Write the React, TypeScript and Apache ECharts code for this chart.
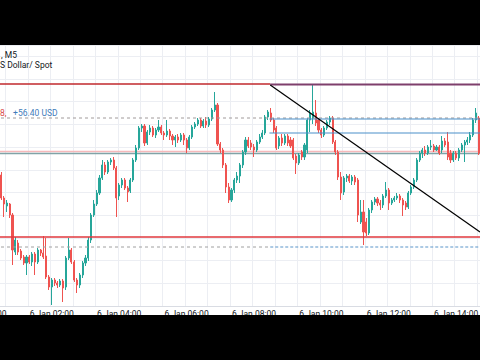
import React, { useEffect, useRef } from 'react';
import * as echarts from 'echarts';

// 5-minute bars, 6 Jan 00:00 .. 14:40
const dayLabel = '6 Jan';
const firstMinute = 0;
const lastMinute = 880;
const stepMinutes = 5;
const times: string[] = [];
for (let m = firstMinute; m <= lastMinute; m += stepMinutes) {
  const h = Math.floor(m / 60);
  const mm = m % 60;
  times.push(`${String(h).padStart(2, '0')}:${String(mm).padStart(2, '0')}`);
}
const tickLabels = ['6 Jan 00:00', '6 Jan 02:00', '6 Jan 04:00', '6 Jan 06:00', '6 Jan 08:00', '6 Jan 10:00', '6 Jan 12:00', '6 Jan 14:00'];

// [open, close, low, high]
const ohlc: number[][] = [
  [2640.0, 2641.0, 2639.6, 2642.0], // 00:00
  [2641.0, 2640.0, 2639.4, 2641.4],
  [2640.0, 2639.0, 2638.4, 2640.6],
  [2639.0, 2639.6, 2638.4, 2640.0],
  [2639.6, 2638.0, 2637.4, 2640.0],
  [2638.0, 2635.0, 2634.4, 2638.4], // 5
  [2635.0, 2630.4, 2630.0, 2635.6],
  [2630.4, 2629.2, 2626.6, 2630.8],
  [2628.8, 2629.4, 2627.6, 2630.0],
  [2629.2, 2627.0, 2626.4, 2629.4],
  [2627.0, 2620.0, 2617.0, 2627.4], // 10
  [2619.6, 2622.0, 2619.0, 2622.6],
  [2621.4, 2619.6, 2619.0, 2622.0],
  [2619.8, 2618.4, 2618.0, 2620.2],
  [2618.6, 2617.4, 2617.0, 2619.0],
  [2617.4, 2618.6, 2615.0, 2619.0], // 15
  [2618.6, 2617.6, 2617.2, 2619.0],
  [2617.6, 2619.2, 2616.8, 2619.6],
  [2619.2, 2617.6, 2615.0, 2619.6],
  [2617.6, 2620.0, 2617.2, 2620.4],
  [2620.0, 2619.4, 2618.8, 2620.2], // 20
  [2619.4, 2618.6, 2618.2, 2622.8],
  [2618.8, 2614.6, 2614.2, 2622.4],
  [2614.6, 2612.6, 2612.0, 2615.0],
  [2612.6, 2614.0, 2609.0, 2614.4],
  [2614.0, 2613.4, 2612.8, 2614.4], // 25
  [2613.4, 2613.0, 2612.4, 2613.8],
  [2613.0, 2613.8, 2612.6, 2614.2],
  [2613.8, 2612.4, 2609.6, 2614.2],
  [2612.6, 2618.4, 2612.0, 2618.8],
  [2618.4, 2620.0, 2618.0, 2622.4], // 30
  [2620.0, 2617.6, 2617.2, 2620.4],
  [2617.6, 2614.0, 2613.6, 2618.0],
  [2614.0, 2613.0, 2611.4, 2614.4],
  [2613.0, 2615.0, 2612.4, 2615.4],
  [2615.0, 2617.4, 2614.4, 2617.8], // 35
  [2617.4, 2618.4, 2616.8, 2619.0],
  [2618.4, 2622.0, 2617.8, 2622.6],
  [2622.0, 2627.0, 2621.4, 2627.4],
  [2627.0, 2629.2, 2626.6, 2630.0],
  [2629.2, 2631.4, 2628.8, 2632.0], // 40
  [2631.4, 2634.4, 2631.0, 2635.0],
  [2634.4, 2637.0, 2634.0, 2638.0],
  [2637.0, 2635.6, 2635.0, 2637.6],
  [2635.6, 2637.6, 2635.2, 2638.0],
  [2637.6, 2638.0, 2637.0, 2638.4], // 45
  [2638.0, 2636.4, 2636.0, 2638.6],
  [2636.4, 2630.4, 2626.6, 2636.8],
  [2630.8, 2633.0, 2630.0, 2633.4],
  [2633.0, 2634.0, 2632.4, 2634.4],
  [2634.0, 2632.4, 2632.0, 2634.4], // 50
  [2632.4, 2631.6, 2629.6, 2632.8],
  [2631.8, 2634.0, 2631.4, 2634.4],
  [2634.0, 2638.0, 2633.6, 2638.4],
  [2638.0, 2640.4, 2637.6, 2641.0],
  [2640.4, 2644.4, 2640.0, 2644.8], // 55
  [2644.4, 2644.8, 2643.6, 2645.2],
  [2644.8, 2641.4, 2640.8, 2645.2],
  [2641.4, 2643.6, 2641.0, 2644.0],
  [2643.6, 2644.4, 2643.0, 2645.0],
  [2644.4, 2643.0, 2642.6, 2644.8], // 60
  [2643.0, 2644.0, 2642.4, 2644.4],
  [2644.0, 2644.6, 2643.6, 2646.0],
  [2644.6, 2643.4, 2643.0, 2645.0],
  [2643.4, 2643.0, 2642.0, 2643.8],
  [2643.0, 2643.8, 2642.6, 2646.0], // 65
  [2643.8, 2642.8, 2642.0, 2644.2],
  [2642.8, 2642.0, 2641.0, 2643.2],
  [2642.0, 2642.6, 2640.6, 2643.0],
  [2642.6, 2642.0, 2641.4, 2643.2],
  [2642.0, 2643.0, 2641.6, 2643.4], // 70
  [2643.0, 2642.0, 2641.0, 2643.4],
  [2642.0, 2640.4, 2639.4, 2642.4],
  [2640.4, 2642.6, 2640.0, 2643.0],
  [2642.6, 2644.6, 2642.2, 2645.0],
  [2644.6, 2645.2, 2644.2, 2645.6], // 75
  [2645.2, 2646.0, 2644.8, 2646.4],
  [2646.0, 2644.8, 2644.4, 2646.4],
  [2644.8, 2645.8, 2644.4, 2646.2],
  [2645.8, 2645.0, 2644.4, 2646.6],
  [2645.0, 2646.2, 2644.6, 2646.6], // 80
  [2646.2, 2648.0, 2645.8, 2648.4],
  [2648.0, 2649.0, 2647.6, 2651.6],
  [2649.0, 2641.2, 2640.8, 2649.4],
  [2641.2, 2640.0, 2639.4, 2641.6],
  [2640.0, 2637.0, 2636.4, 2640.4], // 85
  [2637.0, 2632.6, 2631.4, 2637.4],
  [2632.6, 2630.0, 2629.4, 2633.4],
  [2630.0, 2632.0, 2629.6, 2632.4],
  [2632.0, 2634.0, 2631.4, 2634.4],
  [2634.0, 2634.8, 2633.4, 2635.6], // 90
  [2634.8, 2637.0, 2633.4, 2637.4],
  [2637.0, 2639.6, 2636.4, 2640.0],
  [2639.6, 2642.0, 2639.0, 2642.6],
  [2642.0, 2640.8, 2640.4, 2642.6],
  [2641.4, 2640.6, 2640.0, 2642.0], // 95
  [2640.6, 2640.0, 2638.6, 2641.2],
  [2640.0, 2641.6, 2639.6, 2642.0],
  [2641.6, 2642.6, 2641.2, 2643.2],
  [2642.6, 2643.4, 2642.2, 2644.0],
  [2643.4, 2646.6, 2643.0, 2647.0], // 100
  [2646.6, 2647.6, 2646.0, 2648.0],
  [2647.4, 2646.0, 2645.6, 2648.4],
  [2646.0, 2644.0, 2643.4, 2646.4],
  [2644.4, 2640.4, 2640.0, 2644.8],
  [2640.8, 2642.4, 2640.2, 2642.8], // 105
  [2642.4, 2641.4, 2640.8, 2643.2],
  [2641.4, 2642.8, 2641.0, 2643.2],
  [2642.8, 2641.4, 2640.8, 2643.2],
  [2642.0, 2640.8, 2640.4, 2642.6],
  [2642.0, 2638.4, 2638.0, 2642.4], // 110
  [2638.8, 2637.4, 2635.2, 2639.2],
  [2637.4, 2639.0, 2637.0, 2639.4],
  [2639.6, 2638.6, 2638.0, 2640.0],
  [2638.6, 2641.0, 2638.0, 2641.4],
  [2640.0, 2646.0, 2639.4, 2646.4], // 115
  [2646.0, 2647.4, 2643.6, 2648.0],
  [2646.4, 2647.6, 2645.2, 2653.0],
  [2647.4, 2645.4, 2644.8, 2650.0],
  [2646.0, 2644.0, 2643.4, 2646.4],
  [2644.0, 2643.0, 2642.4, 2644.4], // 120
  [2643.0, 2644.4, 2642.6, 2644.8],
  [2644.4, 2645.6, 2644.0, 2646.0],
  [2645.6, 2646.4, 2645.0, 2646.8],
  [2646.4, 2641.6, 2641.2, 2646.8],
  [2641.6, 2639.6, 2639.0, 2642.0], // 125
  [2639.6, 2634.6, 2634.0, 2640.0],
  [2634.6, 2631.4, 2630.0, 2635.6],
  [2631.6, 2634.4, 2631.0, 2634.8],
  [2634.4, 2634.8, 2633.6, 2635.2],
  [2634.8, 2633.8, 2633.4, 2635.2], // 130
  [2633.8, 2634.6, 2633.0, 2635.0],
  [2634.6, 2633.6, 2633.0, 2635.0],
  [2634.0, 2627.0, 2625.6, 2634.4],
  [2625.6, 2627.6, 2625.2, 2630.0],
  [2627.6, 2623.6, 2621.0, 2630.0], // 135
  [2625.6, 2623.4, 2622.8, 2626.4],
  [2623.4, 2628.0, 2623.0, 2628.4],
  [2628.0, 2629.6, 2627.4, 2630.0],
  [2629.6, 2630.2, 2629.0, 2630.6],
  [2630.2, 2629.4, 2628.8, 2630.6], // 140
  [2629.4, 2629.0, 2628.0, 2630.0],
  [2629.0, 2630.8, 2628.4, 2631.2],
  [2630.8, 2632.0, 2630.4, 2633.6],
  [2632.0, 2629.4, 2628.0, 2632.4],
  [2629.4, 2630.0, 2629.0, 2630.4], // 145
  [2630.0, 2630.4, 2629.6, 2630.8],
  [2630.4, 2630.8, 2630.0, 2631.4],
  [2630.8, 2630.0, 2629.4, 2631.2],
  [2630.0, 2629.0, 2626.8, 2630.4],
  [2629.4, 2628.6, 2628.0, 2629.8], // 150
  [2628.6, 2631.4, 2628.2, 2631.8],
  [2631.4, 2632.6, 2631.0, 2633.0],
  [2632.6, 2634.0, 2632.2, 2634.4],
  [2634.0, 2638.0, 2633.6, 2638.4],
  [2638.0, 2639.4, 2637.6, 2639.8], // 155
  [2639.4, 2640.0, 2638.4, 2640.4],
  [2640.0, 2639.4, 2638.8, 2640.8],
  [2639.4, 2640.6, 2639.0, 2641.0],
  [2640.6, 2640.8, 2640.0, 2642.0],
  [2640.8, 2640.0, 2639.6, 2641.2], // 160
  [2640.0, 2640.6, 2639.8, 2641.0],
  [2640.6, 2639.4, 2639.0, 2641.0],
  [2640.0, 2641.8, 2639.4, 2642.8],
  [2641.8, 2641.0, 2640.6, 2642.4],
  [2641.6, 2638.6, 2638.0, 2643.6], // 165
  [2639.4, 2638.0, 2637.4, 2640.0],
  [2638.0, 2639.4, 2637.6, 2639.8],
  [2639.4, 2638.4, 2638.0, 2639.8],
  [2638.4, 2640.0, 2637.8, 2640.4],
  [2640.0, 2641.0, 2639.6, 2641.4], // 170
  [2641.0, 2641.6, 2637.6, 2642.0],
  [2641.6, 2642.0, 2641.0, 2642.6],
  [2642.0, 2643.0, 2641.4, 2643.6],
  [2643.0, 2646.0, 2642.6, 2646.4],
  [2646.0, 2647.4, 2645.4, 2648.4], // 175
  [2646.4, 2639.4, 2639.0, 2646.8], // 14:40
];

// drawings (price levels) and their horizontal span in bar index units
const firstBar = -0.5;
const lastBar = 176.5;
const drawStartBar = 101.8;
const resistanceTop = 2653.2;
const rayTop = 2653.1;
const positionLevel = 2646.4;
const boxTop = 2646.2;
const boxBottom = 2643.4;
const midPink = 2639.7;
const midGrey = 2639.3;
const supportLevel = 2622.6;
const lowDashed = 2620.6;
const trendStart = [101.8, 2653.0];
const trendEnd = [176.5, 2623.6];

const yMin = 2608.8;
const yMax = 2661.0;
const gridStep = 4.54;

function seg(x1: number, x2: number, y: number) {
  return [[x1, y], [x2, y]];
}

function lineSeries(name: string, data: number[][], color: string, width: number, type: any = 'solid', z = 5) {
  return {
    name,
    type: 'line',
    xAxisIndex: 1,
    yAxisIndex: 0,
    data,
    symbol: 'none',
    silent: true,
    clip: false,
    z,
    lineStyle: { color, width, type },
  };
}

export default function App() {
  const ref = useRef<HTMLDivElement>(null);
  useEffect(() => {
    if (!ref.current) return;
    const chart = echarts.init(ref.current, undefined, { renderer: 'svg' });
    const font = 'Roboto, "Noto Sans", sans-serif';
    chart.setOption({
      animation: false,
      backgroundColor: '#ffffff',
      grid: {
        left: -17,
        right: 0,
        top: 45,
        bottom: 54,
        containLabel: false,
        outerBoundsMode: 'none',
      },
      xAxis: [
        {
          type: 'category',
          data: times,
          boundaryGap: true,
          axisLine: { show: true, lineStyle: { color: '#d9dce3', width: 1 } },
          axisTick: { show: false },
          axisLabel: {
            interval: 23,
            margin: 3,
            color: '#131722',
            fontSize: 8.5,
            fontFamily: font,
            formatter: (v: string, idx: number) => tickLabels[Math.round(idx / 24)] || `${dayLabel} ${v}`,
          },
          splitLine: { show: true, interval: 7, lineStyle: { color: '#eceef3', width: 1 } },
        },
        {
          type: 'value',
          min: firstBar,
          max: lastBar,
          show: false,
          splitLine: { show: false },
        },
      ],
      yAxis: {
        type: 'value',
        min: yMin,
        max: yMax,
        interval: gridStep,
        axisLine: { show: false },
        axisTick: { show: false },
        axisLabel: { show: false },
        splitLine: { show: true, lineStyle: { color: '#eceef3', width: 1 } },
      },
      series: [
        lineSeries('midPink', seg(firstBar, lastBar, midPink), '#f6b9bb', 1.5, 'solid', 1),
        lineSeries('midGrey', seg(firstBar, lastBar, midGrey), '#7fa3a7', 1.3, 'solid', 1),
        {
          type: 'candlestick',
          data: ohlc,
          xAxisIndex: 0,
          yAxisIndex: 0,
          barWidth: 1.6,
          z: 2,
          itemStyle: {
            color: '#26a69a',
            color0: '#ef5350',
            borderColor: '#26a69a',
            borderColor0: '#ef5350',
            borderWidth: 1,
          },
        },
        lineSeries('resistance', seg(firstBar, drawStartBar, resistanceTop), '#c0282d', 1.5),
        lineSeries('ray', seg(drawStartBar, lastBar, rayTop), '#7e3f6c', 2),
        lineSeries('position', seg(firstBar, lastBar, positionLevel), '#a09a9a', 1, [3, 3]),
        lineSeries('boxTop', seg(drawStartBar - 0.3, lastBar, boxTop), '#4a8fc9', 1.2),
        lineSeries('boxBottom', seg(drawStartBar - 0.3, lastBar, boxBottom), '#4a8fc9', 1.2),
        lineSeries('support', seg(firstBar, lastBar, supportLevel), '#e0393e', 1.5),
        lineSeries('lowDashedL', seg(firstBar, drawStartBar, lowDashed), '#a0a0a0', 1, [3, 3]),
        lineSeries('lowDashedR', seg(drawStartBar, lastBar, lowDashed), '#5b95c9', 1.2, [3, 2]),
        lineSeries('trend', [trendStart, trendEnd], '#000000', 1.2, 'solid', 6),
      ],
      graphic: [
        {
          type: 'text',
          x: 1,
          y: 54.5,
          z: 50,
          style: { text: ', M5', fill: '#131722', font: `8.5px ${font}`, verticalAlign: 'middle' },
        },
        {
          type: 'text',
          x: 0,
          y: 64.5,
          z: 50,
          style: { text: 'S Dollar/ Spot', fill: '#131722', font: `8.5px ${font}`, verticalAlign: 'middle' },
        },
        {
          type: 'text',
          x: 0,
          y: 113,
          z: 50,
          style: {
            text: '{r|8,}  {b|+56.40 USD}',
            verticalAlign: 'middle',
            rich: {
              r: { fill: '#d84a4a', fontSize: 8.5, fontFamily: font },
              b: { fill: '#3f7cba', fontSize: 8.5, fontFamily: font },
            },
          },
        },
        { type: 'rect', z: 100, shape: { x: 0, y: 0, width: 480, height: 45 }, style: { fill: '#000000' } },
        { type: 'rect', z: 100, shape: { x: 0, y: 315, width: 480, height: 45 }, style: { fill: '#000000' } },
      ],
    });
    return () => chart.dispose();
  }, []);
  return (
    <div
      ref={ref}
      style={{ position: 'fixed', left: 0, top: 0, width: 480, height: 360 }}
    />
  );
}
